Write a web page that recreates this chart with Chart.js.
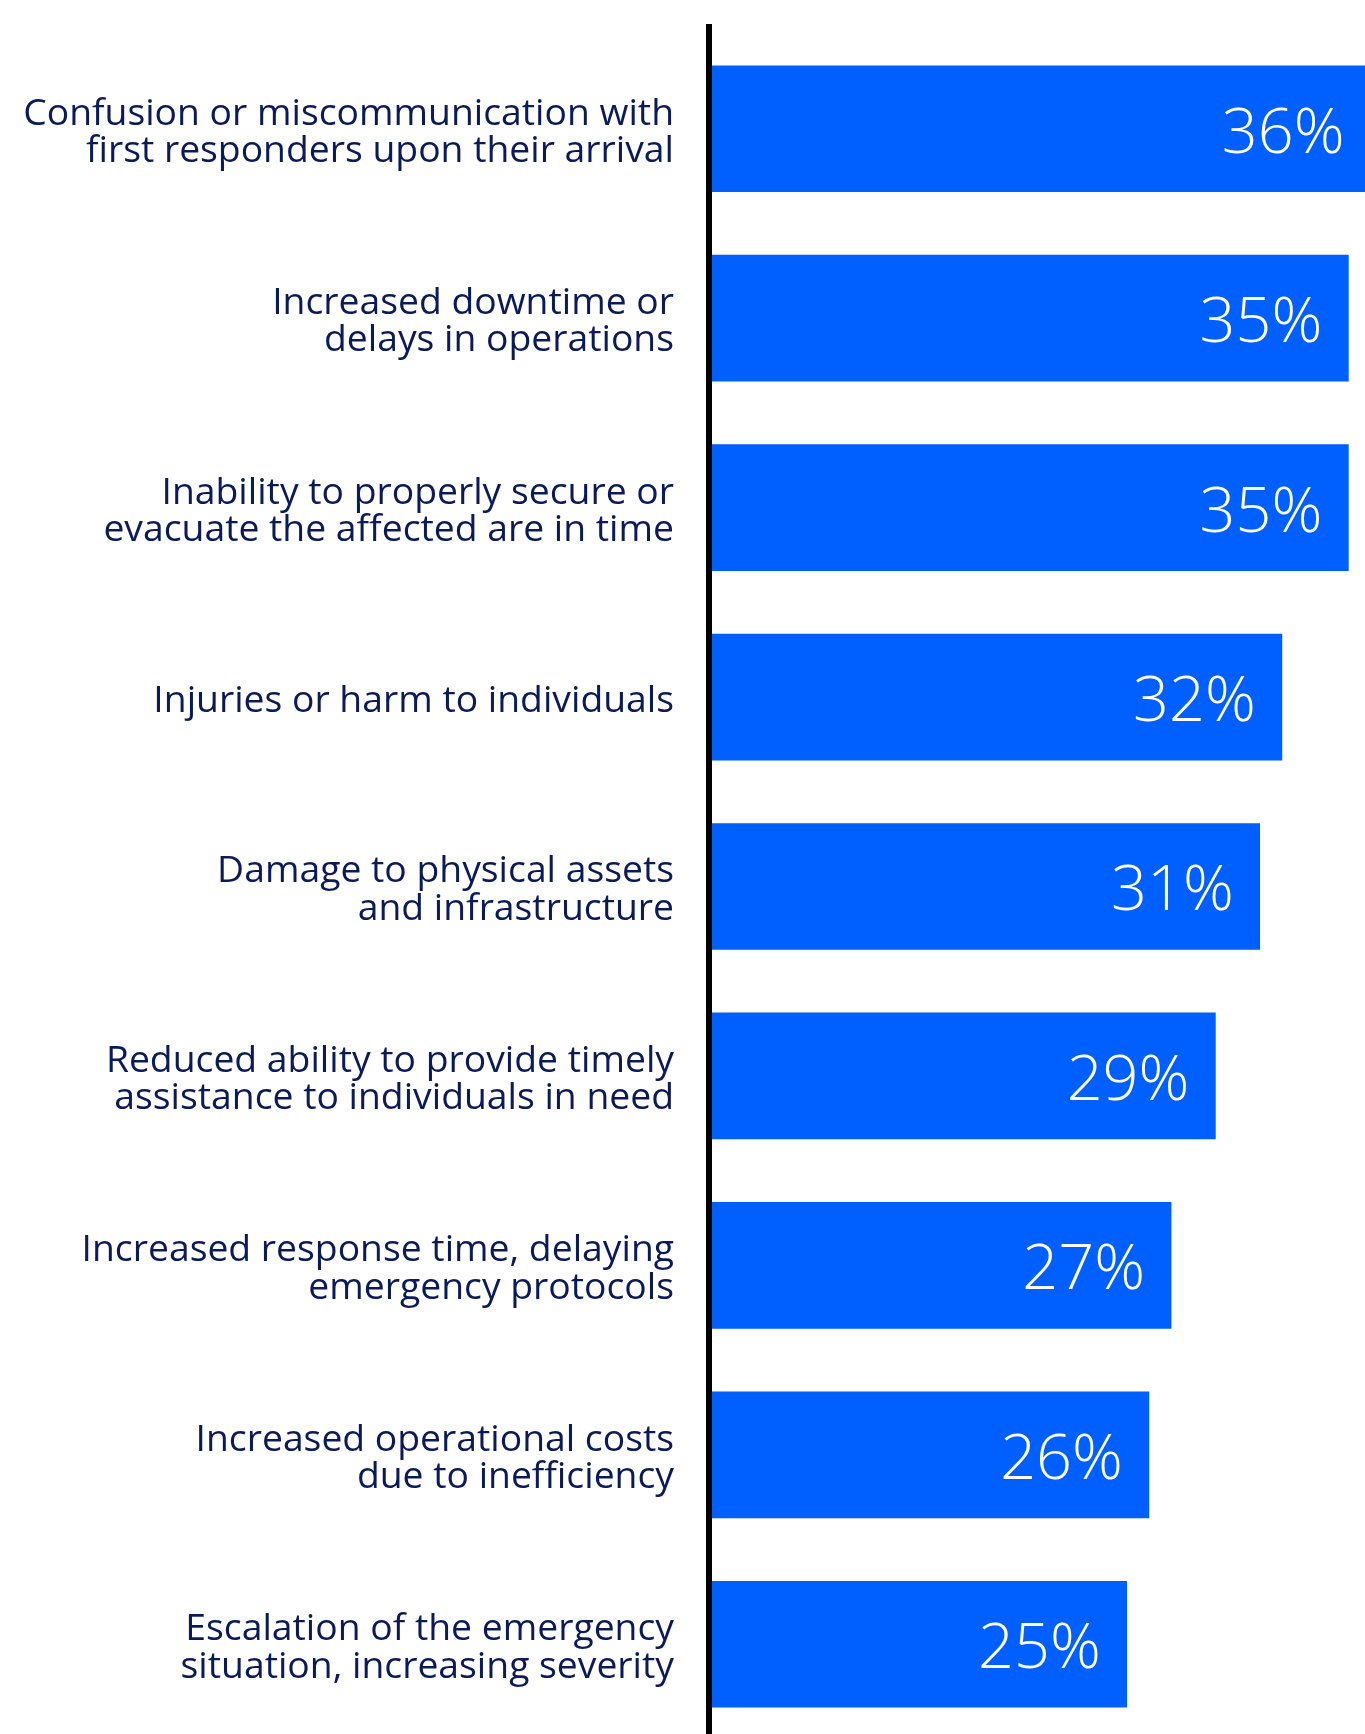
<!DOCTYPE html>
<html>
<head>
<meta charset="utf-8">
<script src="https://cdn.jsdelivr.net/npm/chart.js@4/dist/chart.umd.min.js"></script>
<style>
  html, body { margin: 0; padding: 0; background: #ffffff; overflow: hidden; }
  #wrap { width: 1365px; height: 1739px; }
</style>
</head>
<body>
<div id="wrap"><canvas id="chart" width="1365" height="1739"></canvas></div>
<script>
// Impacts of poor emergency coordination, share of respondents (%)
const categories = [
  ["Confusion or miscommunication with", "first responders upon their arrival"],
  ["Increased downtime or", "delays in operations"],
  ["Inability to properly secure or", "evacuate the affected are in time"],
  ["Injuries or harm to individuals"],
  ["Damage to physical assets", "and infrastructure"],
  ["Reduced ability to provide timely", "assistance to individuals in need"],
  ["Increased response time, delaying", "emergency protocols"],
  ["Increased operational costs", "due to inefficiency"],
  ["Escalation of the emergency", "situation, increasing severity"]
];
const shares = [36, 35, 35, 32, 31, 29, 27, 26, 25];
const valueLabels = shares.map(v => v + "%");

const BAR_BLUE = "#005FFF";
const LABEL_NAVY = "#0a1a5a";

// White value text placed inside the end of each bar
const valueLabelPlugin = {
  id: "valueLabels",
  afterDatasetsDraw(chart) {
    const ctx = chart.ctx;
    const meta = chart.getDatasetMeta(0);
    ctx.save();
    ctx.fillStyle = "#ffffff";
    ctx.font = "350 63px 'Open Sans'";
    ctx.textAlign = "right";
    ctx.textBaseline = "middle";
    meta.data.forEach((bar, i) => {
      ctx.fillText(valueLabels[i], bar.x - 26, bar.y + 6);
    });
    ctx.restore();
  }
};

// Heavy black baseline along the category axis
const baselinePlugin = {
  id: "baseline",
  afterDatasetsDraw(chart) {
    const { ctx, chartArea } = chart;
    ctx.save();
    ctx.strokeStyle = "#000000";
    ctx.lineWidth = 6;
    ctx.beginPath();
    ctx.moveTo(chartArea.left, chartArea.top - 10);
    ctx.lineTo(chartArea.left, chartArea.bottom + 5);
    ctx.stroke();
    ctx.restore();
  }
};

function draw() {
  new Chart(document.getElementById("chart"), {
    type: "bar",
    data: {
      labels: categories,
      datasets: [{
        data: shares,
        backgroundColor: BAR_BLUE,
        borderWidth: 0,
        barThickness: 126
      }]
    },
    options: {
      indexAxis: "y",
      responsive: false,
      animation: false,
      devicePixelRatio: 1,
      layout: { padding: { top: 34, bottom: 0, left: 0, right: 0 } },
      plugins: {
        legend: { display: false },
        tooltip: { enabled: false }
      },
      scales: {
        x: {
          display: false,
          min: 6.15,
          max: 35.75
        },
        y: {
          grid: { display: false, drawTicks: false },
          border: { display: false },
          ticks: {
            color: LABEL_NAVY,
            padding: 35,
            labelOffset: 4,
            font: { family: "'Open Sans'", size: 37.3, lineHeight: 1.0 }
          },
          afterFit(scale) {
            scale.width = 709;
            scale.paddingTop = 0;
            scale.paddingBottom = 0;
          }
        }
      }
    },
    plugins: [valueLabelPlugin, baselinePlugin]
  });
}

Promise.all([
  document.fonts.load("37px 'Open Sans'"),
  document.fonts.load("350 63px 'Open Sans'")
]).then(draw, draw);
</script>
</body>
</html>
